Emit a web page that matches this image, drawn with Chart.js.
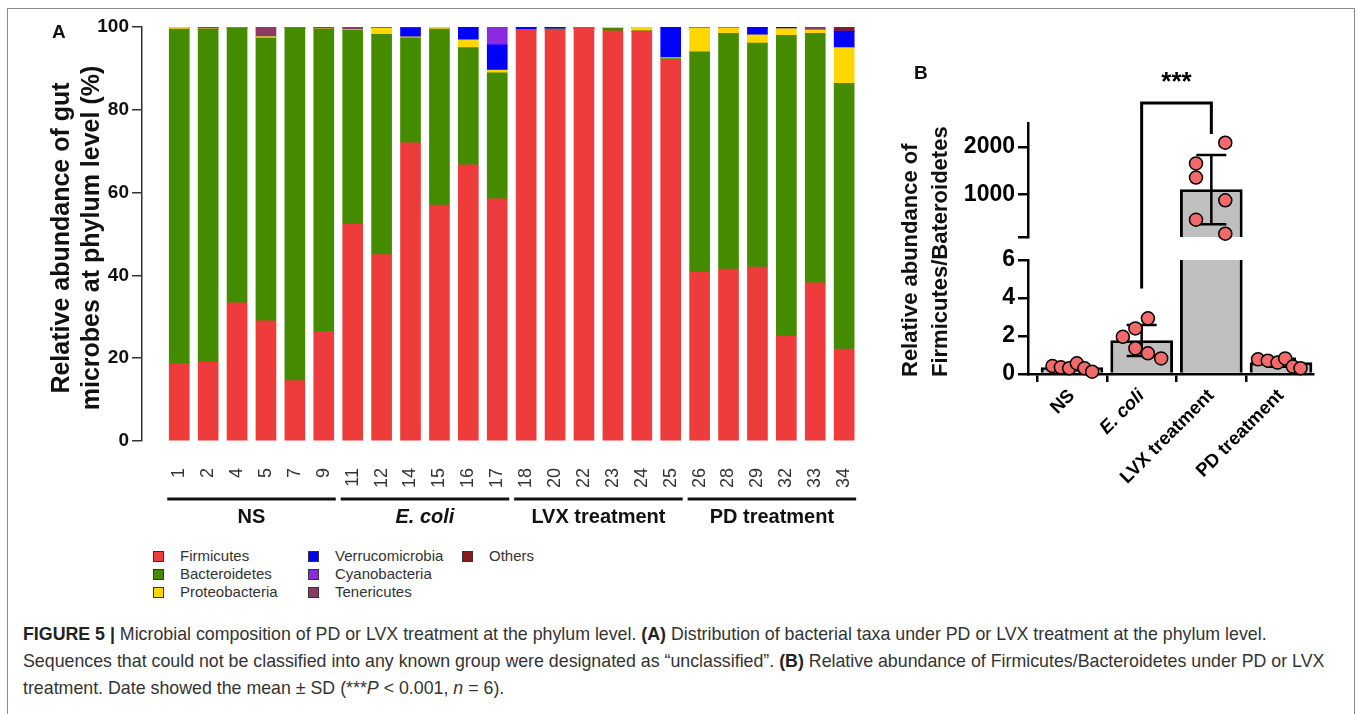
<!DOCTYPE html>
<html><head><meta charset="utf-8">
<script src="https://cdn.jsdelivr.net/npm/chart.js@4.4.0/dist/chart.umd.min.js"></script>
<style>
html,body{margin:0;padding:0;background:#fff;}
body{width:1358px;height:714px;position:relative;overflow:hidden;font-family:"Liberation Sans",Arial,Helvetica,sans-serif;color:#222;}
#frame{position:absolute;left:7px;top:8px;width:1348px;height:730px;border:1.5px solid #8a8a8a;box-sizing:border-box;}
.abs{position:absolute;}
canvas{position:absolute;left:0;top:0;}
.panel{font-weight:bold;font-size:19px;color:#111;}
.ytitle{position:absolute;transform-origin:0 0;transform:rotate(-90deg);font-weight:bold;font-size:22px;line-height:30px;color:#111;white-space:nowrap;}
.leg{position:absolute;font-size:15px;color:#333;white-space:nowrap;line-height:18px;}
.leg i{display:inline-block;position:absolute;left:0;top:4px;width:9px;height:9px;border:1px solid #333;}
.leg span{position:absolute;left:27px;top:0;}
#caption{position:absolute;left:23px;top:621px;width:1325px;font-size:17.8px;line-height:27px;color:#333;}
#caption b{color:#222;}
</style>
</head>
<body>
<div id="frame"></div>
<div class="abs" style="left:0;top:0;width:885px;height:540px;"><canvas id="cA" width="885" height="540"></canvas></div>
<div class="abs" style="left:880px;top:0;width:478px;height:540px;">
  <canvas id="cBlow" width="478" height="540"></canvas>
  <canvas id="cBup" width="478" height="540"></canvas>
</div>
<div class="abs panel" style="left:52px;top:21px;">A</div>
<div class="abs panel" style="left:914px;top:62px;">B</div>
<div class="ytitle" style="left:45px;top:445px;width:414px;text-align:center;font-size:25px;">Relative abundance of gut<br>microbes at phylum level (%)</div>
<div class="ytitle" style="left:895px;top:377px;width:300px;text-align:left;">Relative abundance of<br>Firmicutes/Bateroidetes</div>
<div id="legend"></div>
<div id="caption"><b>FIGURE 5 |</b> Microbial composition of PD or LVX treatment at the phylum level. <b>(A)</b> Distribution of bacterial taxa under PD or LVX treatment at the phylum level. Sequences that could not be classified into any known group were designated as “unclassified”. <b>(B)</b> Relative abundance of Firmicutes/Bacteroidetes under PD or LVX treatment. Date showed the mean ± SD (***<i>P</i> &lt; 0.001, <i>n</i> = 6).</div>
<script>
// ---------- Panel A data ----------
const sampleIds = ['1','2','4','5','7','9','11','12','14','15','16','17','18','20','22','23','24','25','26','28','29','32','33','34'];
const groupNames = ['NS','E. coli','LVX treatment','PD treatment'];
const groupSizes = [6,6,6,6];
const phyla = ['Firmicutes','Bacteroidetes','Proteobacteria','Verrucomicrobia','Cyanobacteria','Tenericutes','Others'];
const phylumColors = ['#EE3B3B','#458B00','#FFD700','#0000FF','#8A2BE2','#8B3A62','#8B1A1A'];
const firmicutes      = [18.7,19.0,33.4,29.0,14.6,26.4,52.4,45.0,72.0,57.0,66.7,58.5,99.2,99.3,99.7,99.1,99.0,92.2,40.8,41.5,42.0,25.4,38.2,22.2];
const bacteroidetes   = [80.8,80.5,66.3,68.3,85.2,73.1,46.8,53.2,25.4,42.5,28.3,30.4,0.1,0.2,0.1,0.6,0.1,0.2,53.2,57.0,54.1,72.6,60.3,64.2];
const proteobacteria  = [0.4,0.1,0.1,0.4,0,0.1,0.2,1.6,0.2,0.4,1.9,0.7,0,0,0,0.3,0.8,0.2,5.8,1.3,2.0,1.6,0.8,8.6];
const verrucomicrobia = [0,0,0,0,0,0,0,0.2,2.2,0,3.1,6.1,0.6,0.4,0,0,0,7.4,0,0,1.9,0.4,0,4.0];
const cyanobacteria   = [0,0,0,0,0,0,0,0,0,0,0,4.1,0,0,0,0,0,0,0.2,0,0,0,0,0];
const tenericutes     = [0,0.4,0.2,2.3,0.2,0.4,0.6,0,0.2,0,0,0.2,0.1,0,0.2,0,0.1,0,0,0.2,0,0,0.7,0];
const others          = [0.1,0,0,0,0,0,0,0,0,0.1,0,0,0,0.1,0,0,0,0,0,0,0,0,0,1.0];
const yTicksA = [0,20,40,60,80,100];

// ---------- Panel B data ----------
const groupsB = ['NS','E. coli','LVX treatment','PD treatment'];
const ratioNS    = [0.42,0.35,0.30,0.56,0.30,0.12];
const ratioEcoli = [1.96,2.40,2.93,1.35,1.09,0.82];
const ratioLVX   = [2085,1648,1352,873,465,169];
const ratioPD    = [0.77,0.70,0.60,0.82,0.39,0.30];
const jitterNS    = [-0.28,-0.16,-0.04,0.07,0.18,0.29];
const jitterEcoli = [-0.27,-0.09,0.09,-0.09,0.09,0.28];
const jitterLVX   = [0.20,-0.22,-0.22,0.20,-0.22,0.20];
const jitterPD    = [-0.33,-0.19,-0.05,0.06,0.17,0.28];
const lowRangeB = [0,6];
const upRangeB = [100,2500];
const lowTicksB = [0,2,4,6];
const upTicksB = [100,1000,2000];

const FONT = '"Liberation Sans", Arial, Helvetica, sans-serif';
Chart.defaults.font.family = FONT;
Chart.defaults.animation = false;

// ---------- Panel A chart ----------
const seriesA = [firmicutes,bacteroidetes,proteobacteria,verrucomicrobia,cyanobacteria,tenericutes,others];
const bracketPlugin = {
  id:'groupBrackets',
  afterDraw(chart){
    const {ctx, chartArea:a, scales:{x}} = chart;
    let start = 0;
    ctx.save();
    groupNames.forEach((g,k)=>{
      const end = start + groupSizes[k] - 1;
      const x1 = x.getPixelForValue(start) - 12, x2 = x.getPixelForValue(end) + 12;
      ctx.strokeStyle = '#111'; ctx.lineWidth = 3;
      ctx.beginPath(); ctx.moveTo(x1, a.bottom + 58); ctx.lineTo(x2, a.bottom + 58); ctx.stroke();
      ctx.fillStyle = '#111';
      ctx.font = (g === 'E. coli' ? 'italic ' : '') + 'bold 20px ' + FONT;
      ctx.textAlign = 'center'; ctx.textBaseline = 'middle';
      ctx.fillText(g, (x1 + x2) / 2, a.bottom + 76);
      start = end + 1;
    });
    ctx.restore();
  }
};
new Chart(document.getElementById('cA'), {
  type:'bar',
  data:{datasets: seriesA.map((arr,k)=>({
    label: phyla[k],
    data: arr.map((v,i)=>({x:i, y:v})),
    backgroundColor: phylumColors[k],
    borderWidth: 0,
    barThickness: 20
  }))},
  options:{
    responsive:false,
    layout:{padding:{top:27,right:12,left:0,bottom:0}},
    plugins:{legend:{display:false}, tooltip:{enabled:false}},
    scales:{
      x:{type:'linear', stacked:true, min:-1.288, max:23.49, offset:false,
        afterBuildTicks: s => { s.ticks = sampleIds.map((_,i)=>({value:i})); },
        afterFit: s => { s.height = 99; },
        grid:{display:false}, border:{display:false},
        ticks:{autoSkip:false, minRotation:90, maxRotation:90, padding:19, color:'#333',
          font:{size:18}, callback: v => sampleIds[v] !== undefined ? sampleIds[v] : ''}
      },
      y:{stacked:true, min:0, max:100,
        afterBuildTicks: s => { s.ticks = yTicksA.map(v=>({value:v})); },
        afterFit: s => { s.width = 142; },
        grid:{drawOnChartArea:false, drawTicks:true, tickLength:10, color:'#333', lineWidth:1.5},
        border:{display:true, color:'#333', width:1.5},
        ticks:{color:'#111', padding:3, font:{size:19, weight:'bold'}}
      }
    }
  },
  plugins:[bracketPlugin]
});

// ---------- Legend (HTML, from arrays) ----------
const legCols = [153,308,462], legRows = [547,565,583];
document.getElementById('legend').innerHTML = phyla.map((p,k)=>{
  const c = Math.floor(k/3), r = k%3;
  return `<div class="leg" style="left:${legCols[c]}px;top:${legRows[r]}px;"><i style="background:${phylumColors[k]}"></i><span>${p}</span></div>`;
}).join('');

// ---------- Panel B charts ----------
const valuesB = [ratioNS, ratioEcoli, ratioLVX, ratioPD];
const jitterB = [jitterNS, jitterEcoli, jitterLVX, jitterPD];
const meansB = valuesB.map(a => a.reduce((s,v)=>s+v,0)/a.length);
const sdB = valuesB.map((a,i) => Math.sqrt(a.reduce((s,v)=>s+(v-meansB[i])**2,0)/(a.length-1)));
const pointsB = [];
valuesB.forEach((arr,g)=>arr.forEach((v,j)=>pointsB.push({x:g + jitterB[g][j], y:v})));
const xMinB = -0.631, xMaxB = 3.459;

const errorBarPlugin = {
  id:'errorBars',
  afterDatasetDraw(chart, args){
    if (args.index !== 0) return;
    const {ctx, chartArea:a, scales:{x,y}} = chart;
    ctx.save();
    ctx.beginPath(); ctx.rect(a.left - 20, a.top, a.width + 40, a.height); ctx.clip();
    ctx.strokeStyle = '#000'; ctx.lineWidth = 2.5;
    meansB.forEach((m,i)=>{
      const px = x.getPixelForValue(i), half = 15;
      const yt = y.getPixelForValue(m + sdB[i]), yb = y.getPixelForValue(m - sdB[i]);
      ctx.beginPath();
      ctx.moveTo(px, yb); ctx.lineTo(px, yt);
      ctx.moveTo(px - half, yt); ctx.lineTo(px + half, yt);
      ctx.moveTo(px - half, yb); ctx.lineTo(px + half, yb);
      ctx.stroke();
    });
    ctx.restore();
  }
};
const sigPlugin = {
  id:'sigBracket',
  afterDraw(chart){
    const {ctx, chartArea:a, scales:{x,y}} = chart;
    const x1 = x.getPixelForValue(1), x2 = x.getPixelForValue(2);
    const yLeft = y.getPixelForValue(4.5), yTop = a.top - 157, yRight = a.top - 126;
    ctx.save();
    ctx.strokeStyle = '#000'; ctx.lineWidth = 3;
    ctx.beginPath(); ctx.moveTo(x1, yLeft); ctx.lineTo(x1, yTop); ctx.lineTo(x2, yTop); ctx.lineTo(x2, yRight); ctx.stroke();
    ctx.fillStyle = '#000'; ctx.font = 'bold 26px ' + FONT; ctx.textAlign = 'center'; ctx.textBaseline = 'middle';
    ctx.fillText('***', (x1 + x2) / 2, yTop - 20);
    ctx.restore();
  }
};
function datasetsB(range, clipPts){
  return [
    {type:'bar', order:2, data: meansB.map((m,i)=>({x:i, y:m})), backgroundColor:'#BFBFBF',
     borderColor:'#000', borderWidth:2.8, barThickness:62, borderSkipped:'start'},
    {type:'scatter', order:1, data: pointsB.filter(p => p.y >= range[0] && p.y <= range[1]),
     pointRadius:6.5, pointBackgroundColor:'#F26A6A',
     pointBorderColor:'#000', pointBorderWidth:1.5, clip: clipPts}
  ];
}
new Chart(document.getElementById('cBlow'), {
  type:'bar',
  data:{datasets: datasetsB(lowRangeB, {left:12, right:12, top:0, bottom:12})},
  options:{
    responsive:false,
    layout:{padding:{top:260, right:45, left:0, bottom:0}},
    plugins:{legend:{display:false}, tooltip:{enabled:false}},
    scales:{
      x:{type:'linear', min:xMinB, max:xMaxB, offset:false,
        afterBuildTicks: s => { s.ticks = groupsB.map((_,i)=>({value:i})); },
        afterFit: s => { s.height = 166; },
        grid:{drawOnChartArea:false, drawTicks:true, tickLength:8, color:'#000', lineWidth:2.5},
        border:{display:true, color:'#000', width:2.5},
        ticks:{autoSkip:false, minRotation:45, maxRotation:45, padding:3, color:'#000',
          font: c => ({size:18.5, weight:'bold', style: (c.tick && groupsB[c.tick.value] === 'E. coli') ? 'italic' : 'normal'}),
          callback: v => groupsB[v] !== undefined ? groupsB[v] : ''}
      },
      y:{min:lowRangeB[0], max:lowRangeB[1],
        afterBuildTicks: s => { s.ticks = lowTicksB.map(v=>({value:v})); },
        afterFit: s => { s.width = 148; },
        grid:{drawOnChartArea:false, drawTicks:true, tickLength:10, color:'#000', lineWidth:2.5},
        border:{display:true, color:'#000', width:2.5},
        ticks:{color:'#000', padding:3, font:{size:23, weight:'bold'}}
      }
    }
  },
  plugins:[errorBarPlugin, sigPlugin]
});
new Chart(document.getElementById('cBup'), {
  type:'bar',
  data:{datasets: datasetsB(upRangeB, {left:12, right:12, top:12, bottom:8})},
  options:{
    responsive:false,
    layout:{padding:{top:123, right:45, left:0, bottom:303}},
    plugins:{legend:{display:false}, tooltip:{enabled:false}},
    scales:{
      x:{type:'linear', min:xMinB, max:xMaxB, offset:false, display:false},
      y:{min:upRangeB[0], max:upRangeB[1],
        afterBuildTicks: s => { s.ticks = upTicksB.map(v=>({value:v})); },
        afterFit: s => { s.width = 148; },
        grid:{drawOnChartArea:false, drawTicks:true, tickLength:10, color:'#000', lineWidth:2.5},
        border:{display:true, color:'#000', width:2.5},
        ticks:{color:'#000', padding:3, font:{size:23, weight:'bold'}, callback: v => v === upTicksB[0] ? '' : String(v)}
      }
    }
  },
  plugins:[errorBarPlugin]
});
</script>
</body></html>
